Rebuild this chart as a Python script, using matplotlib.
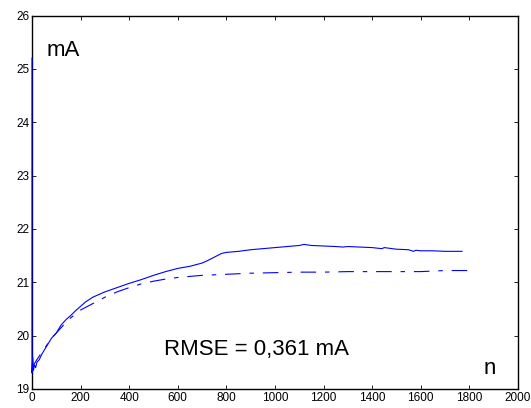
import numpy as np
import matplotlib
matplotlib.use("Agg")
import matplotlib.pyplot as plt

plt.rcParams['font.family'] = ['Liberation Sans', 'DejaVu Sans']

# measured current (solid)
n_meas = [0, 0, 3, 6, 10, 15, 20, 30, 40, 60, 80, 100, 120, 140, 160, 180,
          200, 220, 250, 280, 300, 350, 400, 450, 500, 550, 600, 650, 700,
          720, 750, 780, 800, 850, 900, 950, 1000, 1050, 1100, 1120, 1150,
          1200, 1250, 1280, 1300, 1350, 1400, 1440, 1450, 1500, 1550, 1570,
          1580, 1600, 1650, 1700, 1770]
i_meas = [25.2, 19.3, 19.6, 19.35, 19.45, 19.4, 19.5, 19.55, 19.65, 19.8,
          19.95, 20.05, 20.2, 20.3, 20.38, 20.47, 20.55, 20.63, 20.72, 20.78,
          20.82, 20.9, 20.98, 21.05, 21.13, 21.2, 21.26, 21.3, 21.36, 21.4,
          21.47, 21.54, 21.56, 21.58, 21.61, 21.63, 21.65, 21.67, 21.69,
          21.71, 21.69, 21.68, 21.67, 21.66, 21.67, 21.66, 21.65, 21.63,
          21.65, 21.62, 21.61, 21.58, 21.60, 21.59, 21.59, 21.58, 21.58]

# model estimate (dash-dot)
n_model = [0, 20, 50, 80, 100, 150, 200, 250, 300, 350, 400, 450, 500, 550,
           600, 650, 700, 800, 900, 1000, 1100, 1200, 1300, 1400, 1500, 1600,
           1650, 1700, 1800]
i_model = [19.4, 19.55, 19.75, 19.95, 20.05, 20.3, 20.48, 20.6, 20.72, 20.82,
           20.9, 20.97, 21.02, 21.06, 21.09, 21.11, 21.13, 21.15, 21.17, 21.18,
           21.19, 21.19, 21.2, 21.2, 21.2, 21.2, 21.21, 21.22, 21.22]

fig = plt.figure(figsize=(5.31, 4.08), dpi=100)
ax = fig.add_axes([0.0603, 0.0466, 0.915, 0.9154])

ax.plot(n_meas, i_meas, color='blue', lw=0.8, clip_on=False, zorder=5)
ax.plot(n_model, i_model, color='blue', lw=0.8, linestyle=(0, (14, 8, 4, 8)))

ax.set_xlim(0, 2000)
ax.set_ylim(19, 26)
ax.set_xticks(np.arange(0, 2001, 200))
ax.set_yticks(np.arange(19, 27, 1))
ax.tick_params(direction='in', top=True, right=True, labelsize=8.5,
               length=3, width=0.6, pad=2)
for s in ax.spines.values():
    s.set_linewidth(1.0)

ax.text(60, 25.35, 'mA', fontsize=16, va='center')
ax.text(545, 19.63, 'RMSE = 0,361 mA', fontsize=16)
ax.text(1860, 19.28, 'n', fontsize=16)

fig.savefig('out.png', dpi=100)
